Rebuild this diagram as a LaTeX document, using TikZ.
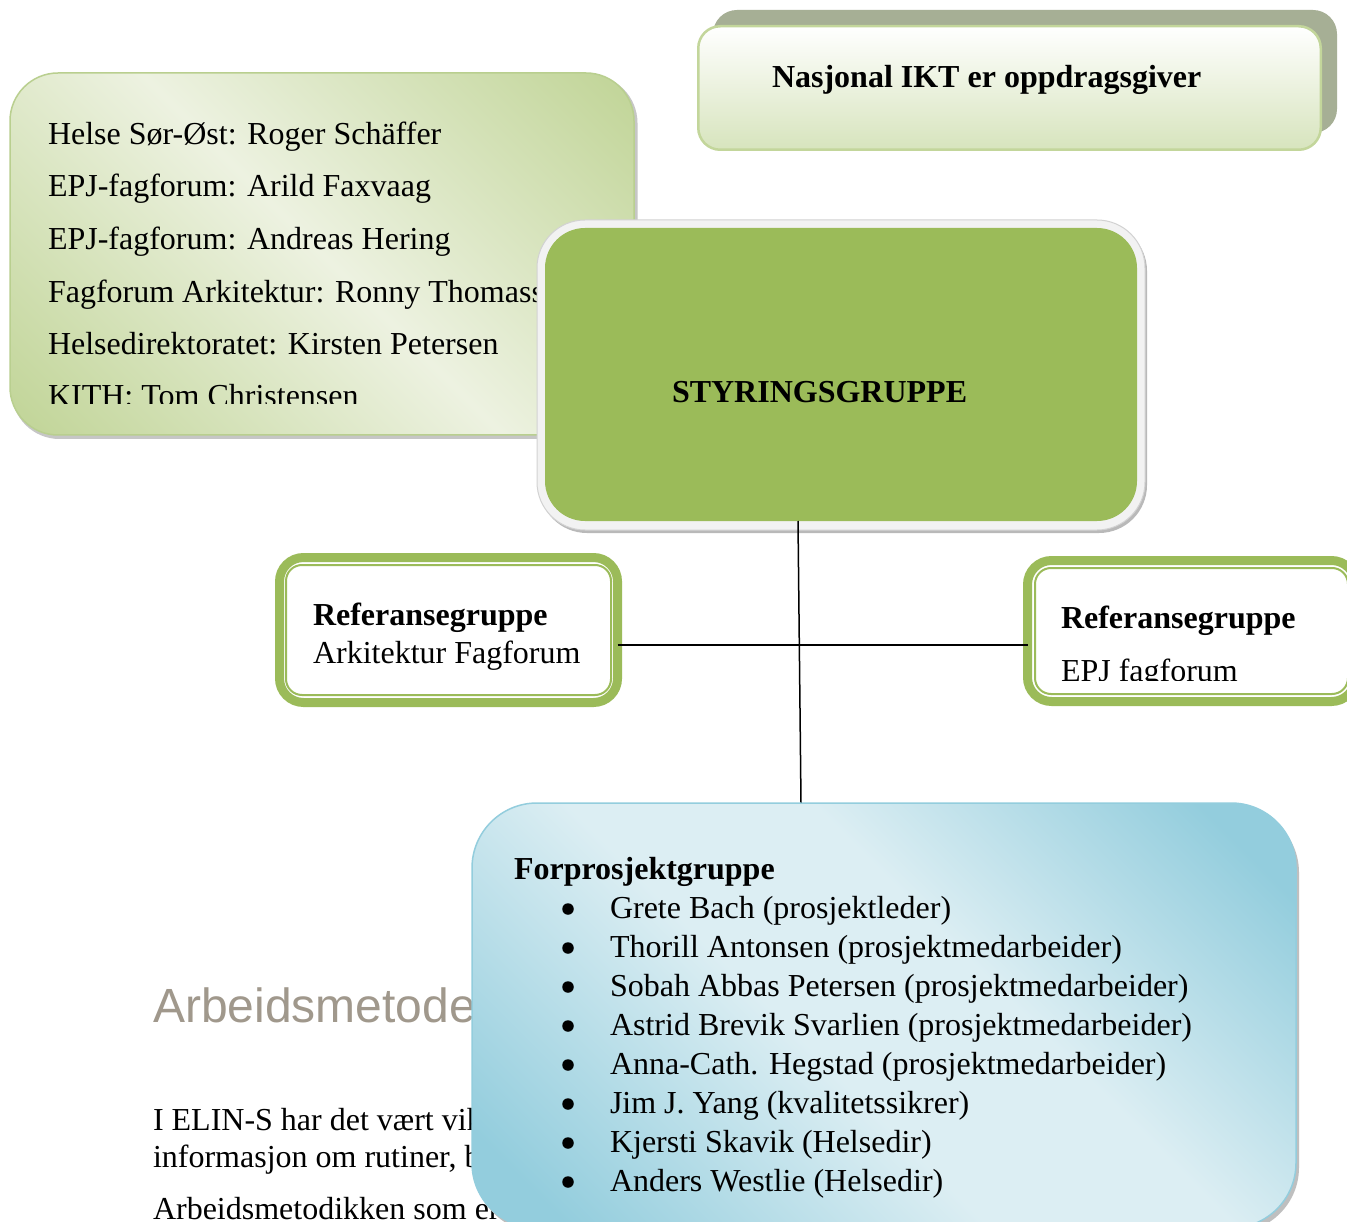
\documentclass[tikz,border=0pt]{standalone}
\usepackage{fontspec}
\setmainfont{Liberation Serif}
\newfontfamily\headsans{Liberation Sans}
\usetikzlibrary{calc}
\definecolor{olivegreen}{HTML}{9BBB59}
\definecolor{lightgreen}{HTML}{EDF2E1}
\definecolor{midgreen}{HTML}{C3D69B}
\definecolor{edgegreen}{HTML}{B9CF8F}
\definecolor{paleolive}{HTML}{D7E4BD}
\definecolor{shadowgreen}{HTML}{A6AF95}
\definecolor{lightblue}{HTML}{DCEEF3}
\definecolor{midblue}{HTML}{93CDDD}
\definecolor{headgrey}{RGB}{160,152,140}
\definecolor{framegrey}{HTML}{F2F2F2}
\pgfdeclarehorizontalshading{greenband}{100bp}{color(0bp)=(midgreen); color(17bp)=(midgreen); color(50bp)=(lightgreen); color(83bp)=(midgreen); color(100bp)=(midgreen)}
\pgfdeclarehorizontalshading{blueband}{100bp}{color(0bp)=(midblue); color(20bp)=(midblue); color(44bp)=(lightblue); color(58bp)=(lightblue); color(80bp)=(midblue); color(100bp)=(midblue)}
\tikzset{
  every node/.style={inner sep=0pt, outer sep=0pt},
  txt/.style={anchor=base west, font=\fontsize{32}{38}\selectfont},
  boldtxt/.style={anchor=base west, font=\fontsize{32}{38}\selectfont\bfseries},
  boxshadow/.style={fill=#1, draw=none},
  conn/.style={draw=black, line width=1.5pt},
  refouter/.style={draw=olivegreen, line width=9pt, fill=white, rounded corners=24pt},
  refinner/.style={draw=olivegreen, line width=2pt, rounded corners=16pt},
  bulletdot/.style={circle, fill=black, minimum size=11.5pt},
}
\begin{document}
\begin{tikzpicture}[x=1pt,y=-1pt]
\useasboundingbox (0,0) rectangle (1347,1222);
\clip (0,0) rectangle (1347,1222);
\fill[white] (0,0) rectangle (1347,1222);

% background document text
\node[anchor=base west, font=\headsans\fontsize{48}{56}\selectfont, text=headgrey] (head) at (153,1022) {Arbeidsmetode};
\node[txt] (p1) at (153,1130) {I ELIN-S har det vært vik};
\node[txt] (p2) at (153,1167) {informasjon om rutiner, b};
\node[txt] (p3) at (153,1219) {Arbeidsmetodikken som er};

% left green members box
\node[boxshadow=gray!45, rounded corners=48pt, minimum width=626pt, minimum height=364pt] (gshadow) at (324.5,257) {};
\node[draw=edgegreen, line width=1.5pt, shading=greenband, shading angle=45, rounded corners=48pt, minimum width=624pt, minimum height=362pt] (members) at (322,254) {};
\begin{scope}
\clip (15,80) rectangle (630,404);
\node[txt] (m1) at (48,145) {Helse Sør-Øst: Roger Schäffer};
\node[txt] (m2) at (48,197) {EPJ-fagforum: Arild Faxvaag};
\node[txt] (m3) at (48,250) {EPJ-fagforum: Andreas Hering};
\node[txt] (m4) at (48,303) {Fagforum Arkitektur: Ronny Thomass};
\node[txt] (m5) at (48,355) {Helsedirektoratet: Kirsten Petersen};
\node[txt] (m6) at (48,407) {KITH: Tom Christensen};
\end{scope}

% Nasjonal IKT box
\node[boxshadow=shadowgreen, rounded corners=24pt, minimum width=624pt, minimum height=123pt] (nshadow) at (1025,71.5) {};
\node[draw=midgreen, line width=2.5pt, top color=white, bottom color=paleolive, rounded corners=22pt, minimum width=622.5pt, minimum height=123.5pt] (nasj) at (1009.5,88) {};
\node[boldtxt] (nasjt) at (772,88) {Nasjonal IKT er oppdragsgiver};

% connector anchor points
\coordinate (styrfoot) at ([xshift=-43pt]841,521);
\coordinate (forphead) at ([xshift=-83pt]884,803);

% ref boxes
\node[refouter, minimum width=338pt, minimum height=145pt] (refL) at (448.5,630) {};
\node[refouter, minimum width=328pt, minimum height=141pt] (refR) at (1191.5,631) {};

\draw[conn] ([yshift=-15pt]refL.east) -- ([yshift=-14pt]refR.west);

% STYRINGSGRUPPE box
\node[boxshadow=gray!55, rounded corners=48pt, minimum width=608pt, minimum height=310pt] (sshadow) at (843,378) {};
\node[fill=framegrey, draw=gray!35, line width=1pt, rounded corners=48pt, minimum width=608pt, minimum height=310pt] (styr) at (841,375) {};
\node[fill=olivegreen, rounded corners=40pt, minimum width=592pt, minimum height=293pt] (styrin) at (841,374.5) {};
\node[boldtxt] (styrt) at (672,403) {STYRINGSGRUPPE};

\draw[conn] (styrin.south -| styrfoot) -- (forphead);

% ref boxes inner lines and text
\node[refinner, minimum width=325pt, minimum height=130pt] (refLin) at (448.5,630) {};
\node[refinner, minimum width=313pt, minimum height=126pt] (refRin) at (1191.5,631) {};
\node[boldtxt] (rL1) at (313,625) {Referansegruppe};
\node[txt] (rL2) at (313,663) {Arkitektur Fagforum};
\node[boldtxt] (rR1) at (1061,628) {Referansegruppe};
\begin{scope}
\clip (1030,640) rectangle (1345,680);
\node[txt] (rR2) at (1061,681) {EPJ fagforum};
\end{scope}

% Forprosjektgruppe box
\node[boxshadow=gray!50, rounded corners=65pt, minimum width=824pt, minimum height=425pt] (fshadow) at (887,1020) {};
\node[draw=midblue, line width=1.5pt, shading=blueband, shading angle=45, rounded corners=65pt, minimum width=824pt, minimum height=425pt] (forp) at (884,1015.5) {};
\node[boldtxt] (forpt) at (514,879) {Forprosjektgruppe};
\foreach \name [count=\i] in {Grete Bach (prosjektleder),Thorill Antonsen (prosjektmedarbeider),Sobah Abbas Petersen (prosjektmedarbeider),Astrid Brevik Svarlien (prosjektmedarbeider),Anna-Cath. Hegstad (prosjektmedarbeider),Jim J. Yang (kvalitetssikrer),Kjersti Skavik (Helsedir),Anders Westlie (Helsedir)}{
  \node[bulletdot] (b\i) at (568,{870+39*\i}) {};
  \node[txt] (f\i) at (610,{879+39*\i}) {\name};
}
\end{tikzpicture}
\end{document}
